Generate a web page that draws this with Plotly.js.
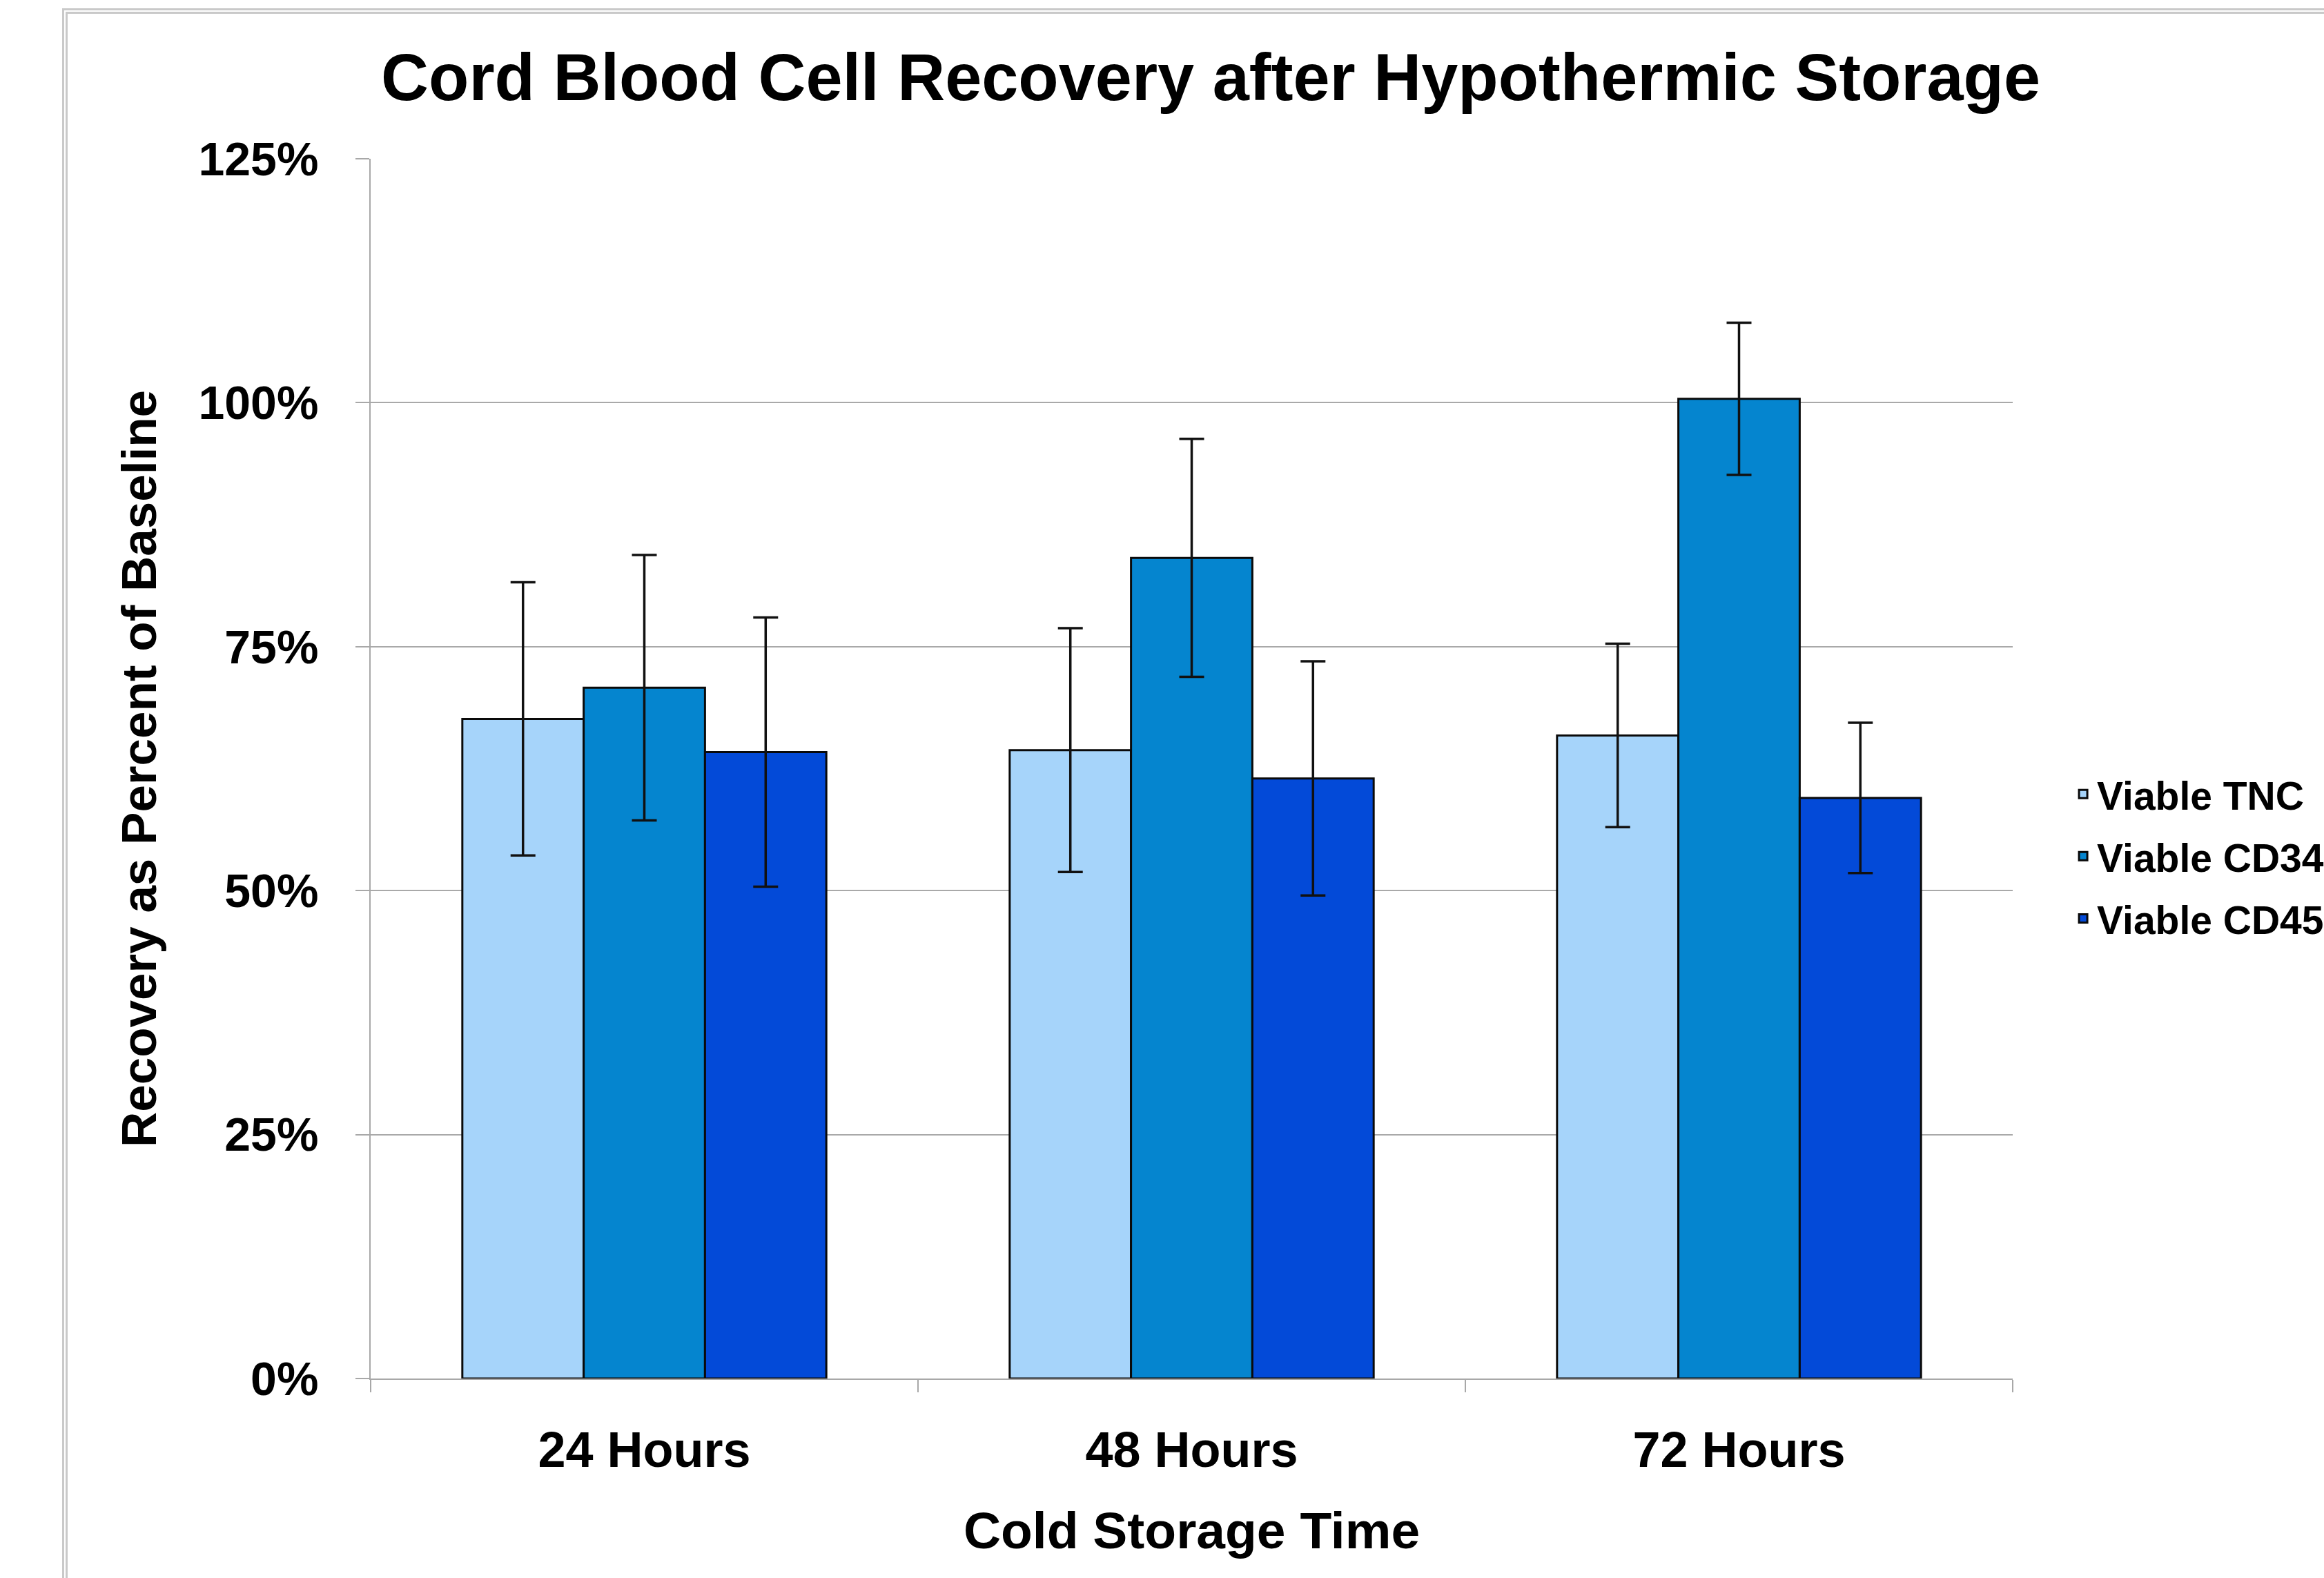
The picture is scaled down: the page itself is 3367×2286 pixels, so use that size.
<!DOCTYPE html>
<html>
<head>
<meta charset="utf-8">
<script src="https://cdn.plot.ly/plotly-3.0.1.min.js"></script>
<style>
  html, body { margin: 0; padding: 0; background: #ffffff; }
  #chart { width: 3367px; height: 2286px; position: absolute; left: 0; top: 0; }
  #frame { position: absolute; left: 90px; top: 12px; width: 3400px; height: 2400px;
           border-top: 8px double #c9c9c9; border-left: 8px double #c9c9c9; pointer-events: none; }
</style>
</head>
<body>
<div id="chart"></div>
<div id="frame"></div>
<script>
const categories = ["24 Hours", "48 Hours", "72 Hours"];
const seriesNames = ["Viable TNC", "Viable CD34", "Viable CD45"];
const tncValues  = [0.676, 0.644, 0.659];
const cd34Values = [0.708, 0.841, 1.004];
const cd45Values = [0.642, 0.615, 0.595];
const tncErrors  = [0.140, 0.125, 0.094];
const cd34Errors = [0.136, 0.122, 0.078];
const cd45Errors = [0.138, 0.120, 0.077];
const seriesColors = ["#A6D4FA", "#0585CF", "#034AD8"];

const values = [tncValues, cd34Values, cd45Values];
const errors = [tncErrors, cd34Errors, cd45Errors];

const font = "Liberation Sans, Arial, sans-serif";

const traces = seriesNames.map((name, i) => ({
  type: "bar",
  name: name,
  x: categories,
  y: values[i],
  legendgroup: "g" + i,
  marker: { color: seriesColors[i], line: { color: "#0a0a0a", width: 3 } },
  error_y: { type: "data", array: errors[i], visible: true, color: "#111111", thickness: 3.5, width: 18 }
}));

const layout = {
  width: 3367,
  height: 2286,
  paper_bgcolor: "#ffffff",
  plot_bgcolor: "#ffffff",
  margin: { l: 537, r: 451, t: 230, b: 289, autoexpand: false },
  barmode: "group",
  bargap: 0.335,
  bargroupgap: 0,
  title: {
    text: "Cord Blood Cell Recovery after Hypothermic Storage",
    font: { family: font, size: 95.5, color: "#000000", weight: "bold" },
    x: 0.5116, xref: "paper", xanchor: "center",
    y: 0.951, yref: "container", yanchor: "middle"
  },
  xaxis: {
    type: "category",
    tickson: "boundaries",
    ticks: "outside",
    ticklen: 18,
    tickwidth: 2,
    tickcolor: "#a8a8a8",
    showline: true,
    linecolor: "#a8a8a8",
    linewidth: 2,
    showgrid: false,
    tickfont: { family: font, size: 72, color: "#000000", weight: "bold" },
    ticklabelstandoff: 40,
    title: { text: "Cold Storage Time", font: { family: font, size: 75, color: "#000000", weight: "bold" }, standoff: 51 }
  },
  yaxis: {
    range: [0, 1.25],
    dtick: 0.25,
    tick0: 0,
    tickformat: ".0%",
    ticks: "outside",
    ticklen: 20,
    tickwidth: 2,
    tickcolor: "#a8a8a8",
    showline: true,
    linecolor: "#a8a8a8",
    linewidth: 2,
    showgrid: true,
    gridcolor: "#a9a9a9",
    gridwidth: 2,
    zeroline: false,
    tickfont: { family: font, size: 68, color: "#000000", weight: "bold" },
    ticklabelstandoff: 40,
    title: { text: "Recovery as Percent of Baseline", font: { family: font, size: 71, color: "#000000", weight: "bold" }, standoff: 38 }
  },
  legend: {
    x: 1.0345, xanchor: "left",
    y: 0.428, yanchor: "middle",
    traceorder: "grouped",
    tracegroupgap: 13,
    font: { family: font, size: 57, color: "#000000", weight: "bold" },
    bgcolor: "rgba(0,0,0,0)",
    itemwidth: 30
  },
  showlegend: true
};

Plotly.newPlot("chart", traces, layout, { displayModeBar: false, staticPlot: true });
</script>
</body>
</html>
